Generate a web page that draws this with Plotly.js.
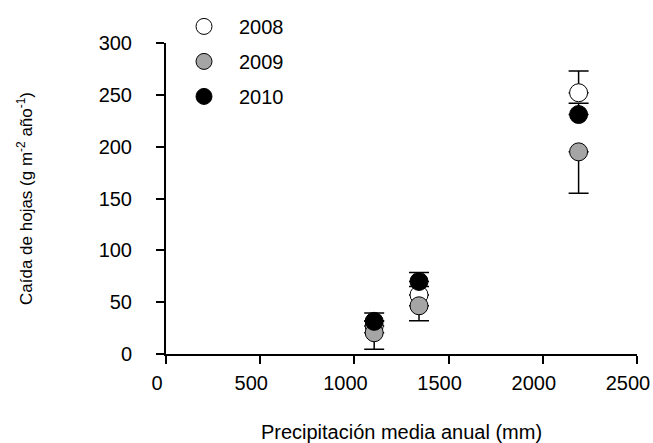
<!DOCTYPE html>
<html>
<head>
<meta charset="utf-8">
<script src="https://cdn.plot.ly/plotly-3.0.1.min.js"></script>
<style>html,body{margin:0;padding:0;background:#fff;}#chart{width:653px;height:443px;}</style>
</head>
<body>
<div id="chart"></div>
<script>
// Mean annual precipitation of each site (mm)
var precipitation = [1105, 1343, 2190];
// Leaf fall (g m-2 año-1) per year
var years = ["2008", "2009", "2010"];
var leaf2008 = [27, 57, 252];
var leaf2009 = [20.5, 46.5, 195];
var leaf2010 = [31.5, 70, 231];
// Error bars (visible parts)
var err2008Plus = [5, 8, 21];
var err2009Minus = [16, 14.5, 40];
var err2010Plus = [8, 8.7, 11];
var xTicks = [0, 500, 1000, 1500, 2000, 2500];
var yTicks = [0, 50, 100, 150, 200, 250, 300];

var font = "Liberation Sans, Arial, sans-serif";

function trace(name, y, fill, errPlus, errMinus) {
  return {
    type: "scatter", mode: "markers", name: name,
    x: precipitation, y: y,
    legendgroup: name,
    marker: {size: 18, color: fill, line: {color: "#000000", width: 1}},
    error_y: {
      type: "data", symmetric: false,
      array: errPlus, arrayminus: errMinus,
      color: "#000000", thickness: 1.5, width: 10
    },
    cliponaxis: false
  };
}

var zeros = [0, 0, 0];
var data = [
  trace(years[0], leaf2008, "#ffffff", err2008Plus, zeros),
  trace(years[1], leaf2009, "#a5a5a5", zeros, err2009Minus),
  trace(years[2], leaf2010, "#000000", err2010Plus, zeros)
];

var layout = {
  width: 653, height: 443,
  margin: {l: 166, r: 16, t: 43, b: 89, autoexpand: false},
  paper_bgcolor: "#ffffff", plot_bgcolor: "#ffffff",
  font: {family: font, size: 20, color: "#000000"},
  showlegend: true,
  legend: {
    x: 3 / 471, y: 1.116, xanchor: "left", yanchor: "top",
    traceorder: "grouped", tracegroupgap: 6,
    itemwidth: 60,
    font: {family: font, size: 20, color: "#000000"},
    bgcolor: "rgba(0,0,0,0)"
  },
  xaxis: {
    range: [0, 2500], tickvals: xTicks, ticktext: xTicks.map(String),
    showgrid: false, zeroline: false,
    showline: true, linecolor: "#000000", linewidth: 2,
    ticks: "outside", ticklen: 8, tickwidth: 2, tickcolor: "#000000",
    ticklabelshift: -9, ticklabelstandoff: 2,
    tickfont: {family: font, size: 20},
    title: {text: "Precipitación media anual (mm)", font: {family: font, size: 20}, standoff: 32},
    fixedrange: true
  },
  yaxis: {
    range: [0, 300], tickvals: yTicks, ticktext: yTicks.map(String),
    showgrid: false, zeroline: false,
    showline: true, linecolor: "#000000", linewidth: 2,
    ticks: "outside", ticklen: 8, tickwidth: 2, tickcolor: "#000000",
    ticklabelstandoff: 20,
    tickfont: {family: font, size: 20},
    title: {text: "Caída de hojas (g m<sup>-2</sup> año<sup>-1</sup>)", font: {family: font, size: 17}, standoff: 62},
    fixedrange: true
  },
  shapes: [{
    type: "line", xref: "paper", yref: "y",
    x0: -9 / 471, x1: 0, y0: 0, y1: 0,
    line: {color: "#000000", width: 2}
  }]
};

Plotly.newPlot("chart", data, layout, {staticPlot: true, displayModeBar: false});
</script>
</body>
</html>
